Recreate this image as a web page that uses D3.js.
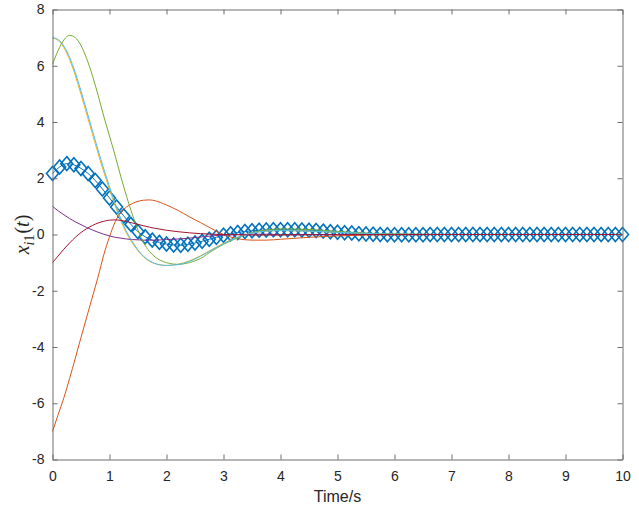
<!DOCTYPE html>
<html>
<head>
<meta charset="utf-8">
<script src="https://cdn.jsdelivr.net/npm/d3@7"></script>
<style>
	body { margin: 0; background: #fff; }
	svg { display: block; }
	.tick text { font-family: 'Liberation Sans', Arial, sans-serif; font-size: 14px; fill: #262626; }
</style>
</head>
<body>
<svg id="chart" width="639" height="514"></svg>
<script>
// time grid for the smooth curves
const tLine = [0, 0.1, 0.2, 0.3, 0.4, 0.5, 0.6, 0.7, 0.8, 0.9, 1.0, 1.1, 1.2, 1.3, 1.4, 1.5, 1.6, 1.7, 1.8,
	2.0, 2.2, 2.4, 2.6, 2.8, 3.0, 3.25, 3.5, 3.75, 4.0, 4.5, 5.0, 5.5, 6.0, 7.0, 8.0, 10.0];

const orange = [-7.0, -6.4, -5.8, -5.12, -4.4, -3.66, -2.94, -2.22, -1.5, -0.72, -0.08, 0.45, 0.78, 0.98, 1.1, 1.18, 1.22, 1.23, 1.2,
	1.05, 0.86, 0.63, 0.42, 0.2, 0.0, -0.15, -0.2, -0.2, -0.17, -0.1, -0.05, -0.02, -0.01, 0, 0, 0];
const yellow = [6.98, 6.9, 6.64, 6.22, 5.65, 4.98, 4.28, 3.58, 2.88, 2.22, 1.6, 1.02, 0.48, 0.04, -0.3, -0.58, -0.8, -0.95, -1.04,
	-1.1, -1.06, -0.94, -0.75, -0.53, -0.31, -0.09, 0.05, 0.12, 0.14, 0.12, 0.08, 0.04, 0.01, 0, 0, 0];
const purple = [1.0, 0.84, 0.7, 0.57, 0.45, 0.35, 0.25, 0.16, 0.08, 0.01, -0.05, -0.1, -0.13, -0.16, -0.18, -0.19, -0.2, -0.2, -0.2,
	-0.18, -0.16, -0.13, -0.09, -0.05, -0.02, 0, 0.01, 0.01, 0, 0, 0, 0, 0, 0, 0, 0];
const green = [6.05, 6.55, 6.92, 7.08, 7.0, 6.72, 6.25, 5.65, 4.95, 4.2, 3.5, 2.8, 2.05, 1.35, 0.72, 0.15, -0.3, -0.6, -0.8,
	-1.0, -1.06, -1.0, -0.85, -0.58, -0.35, -0.12, 0.07, 0.16, 0.2, 0.18, 0.11, 0.05, 0.02, 0, 0, 0];
const cyan = [7.0, 6.93, 6.7, 6.3, 5.75, 5.1, 4.4, 3.7, 3.0, 2.33, 1.7, 1.1, 0.55, 0.1, -0.25, -0.55, -0.78, -0.93, -1.03,
	-1.1, -1.07, -0.96, -0.77, -0.55, -0.33, -0.1, 0.05, 0.12, 0.14, 0.12, 0.08, 0.04, 0.01, 0, 0, 0];
const darkred = [-1.0, -0.76, -0.52, -0.3, -0.1, 0.07, 0.21, 0.32, 0.41, 0.47, 0.51, 0.52, 0.5, 0.46, 0.41, 0.36, 0.31, 0.26, 0.22,
	0.15, 0.1, 0.06, 0.03, 0.01, 0, -0.01, -0.02, -0.02, -0.02, -0.01, -0.01, 0, 0, 0, 0, 0];

// blue series, one value per diamond (every 0.125 s)
const tMark = d3.range(0, 10.0001, 0.125);
const blue = [2.17, 2.40, 2.52, 2.48, 2.35, 2.17, 1.92, 1.62, 1.30, 0.98, 0.66, 0.36, 0.10, -0.08, -0.20, -0.28,
	-0.34, -0.37, -0.38, -0.35, -0.30, -0.24, -0.17, -0.10, -0.03, 0.03, 0.07, 0.11, 0.13, 0.15, 0.16, 0.17,
	0.17, 0.17, 0.17, 0.16, 0.15, 0.14, 0.12, 0.10, 0.08, 0.06, 0.05, 0.03, 0.02, 0.01, 0.0, -0.01,
	-0.01, -0.01, -0.01, -0.01, -0.01, 0, 0, 0, 0, 0, 0, 0, 0, 0, 0, 0,
	0, 0, 0, 0, 0, 0, 0, 0, 0, 0, 0, 0, 0, 0, 0, 0, 0];

const xTicks = [0, 1, 2, 3, 4, 5, 6, 7, 8, 9, 10];
const yTicks = [-8, -6, -4, -2, 0, 2, 4, 6, 8];

const series = [
	{ values: orange, color: '#D95319' },
	{ values: yellow, color: '#EDB120' },
	{ values: purple, color: '#7E2F8E' },
	{ values: green, color: '#77AC30' },
	{ values: cyan, color: '#4DBEEE' },
	{ values: darkred, color: '#A2142F' }
];

const plotLeft = 52.5, plotRight = 622.5, plotTop = 9.5, plotBottom = 459.5;

let x = d3.scaleLinear().domain([0, 10]).range([plotLeft, plotRight]);
let y = d3.scaleLinear().domain([-8, 8]).range([plotBottom, plotTop]);

let svg = d3.select('#chart');

let line = d3.line()
	.x(function(d) { return x(d[0]); })
	.y(function(d) { return y(d[1]); })
	.curve(d3.curveMonotoneX);

// blue line + diamonds first (plotted first in the original)
let bluePts = tMark.map(function(t, i) { return [t, blue[i]]; });
svg.append('path')
	.attr('d', line(bluePts))
	.attr('fill', 'none')
	.attr('stroke', '#0072BD')
	.attr('stroke-width', 1);

// matlab 'd' marker, a bit taller than wide
let diamond = 'M0,-7L6,0L0,7L-6,0Z';
svg.append('g').selectAll('path')
	.data(bluePts)
	.enter()
	.append('path')
	.attr('transform', function(d) { return 'translate(' + x(d[0]) + ',' + y(d[1]) + ')'; })
	.attr('d', diamond)
	.attr('fill', 'none')
	.attr('stroke', '#0072BD')
	.attr('stroke-width', 1.6);

series.forEach(function(s) {
	let pts = tLine.map(function(t, i) { return [t, s.values[i]]; });
	svg.append('path')
		.attr('d', line(pts))
		.attr('fill', 'none')
		.attr('stroke', s.color)
		.attr('stroke-width', 1);
});

// axes, MATLAB style box with inward ticks
let axisColor = '#6e6e6e';
let tickLen = 5;
let plainNum = function(d) { return String(d); };   // hyphen minus like matlab

let gx = svg.append('g').attr('transform', 'translate(0,' + plotBottom + ')')
	.call(d3.axisBottom(x).tickValues(xTicks).tickFormat(plainNum).tickSizeInner(-tickLen).tickSizeOuter(0).tickPadding(12));
let gxTop = svg.append('g').attr('transform', 'translate(0,' + plotTop + ')')
	.call(d3.axisTop(x).tickValues(xTicks).tickSizeInner(-tickLen).tickSizeOuter(0).tickFormat(''));
let gy = svg.append('g').attr('transform', 'translate(' + plotLeft + ',0)')
	.call(d3.axisLeft(y).tickValues(yTicks).tickFormat(plainNum).tickSizeInner(-tickLen).tickSizeOuter(0).tickPadding(8));
let gyRight = svg.append('g').attr('transform', 'translate(' + plotRight + ',0)')
	.call(d3.axisRight(y).tickValues(yTicks).tickSizeInner(-tickLen).tickSizeOuter(0).tickFormat(''));

[gx, gxTop, gy, gyRight].forEach(function(g) {
	g.selectAll('.domain').attr('stroke', axisColor);
	g.selectAll('.tick line').attr('stroke', axisColor);
});

svg.append('text')
	.attr('x', (plotLeft + plotRight) / 2)
	.attr('y', 502)
	.attr('text-anchor', 'middle')
	.attr('font-family', "'Liberation Sans', Arial, sans-serif")
	.attr('font-size', 16)
	.attr('fill', '#262626')
	.text('Time/s');

let ylab = svg.append('text')
	.attr('transform', 'translate(29,' + ((plotTop + plotBottom) / 2) + ') rotate(-90)')
	.attr('text-anchor', 'middle')
	.attr('font-family', "'Liberation Serif', 'DejaVu Serif', serif")
	.attr('font-size', 20)
	.attr('fill', '#262626');
ylab.append('tspan').attr('font-style', 'italic').text('x');
ylab.append('tspan').attr('font-style', 'italic').attr('font-size', 14).attr('dy', 5).text('i');
ylab.append('tspan').attr('font-size', 14).text('1');
ylab.append('tspan').attr('dy', -5).attr('dx', 1).text('(');
ylab.append('tspan').attr('font-style', 'italic').text('t');
ylab.append('tspan').text(')');
</script>
</body>
</html>
